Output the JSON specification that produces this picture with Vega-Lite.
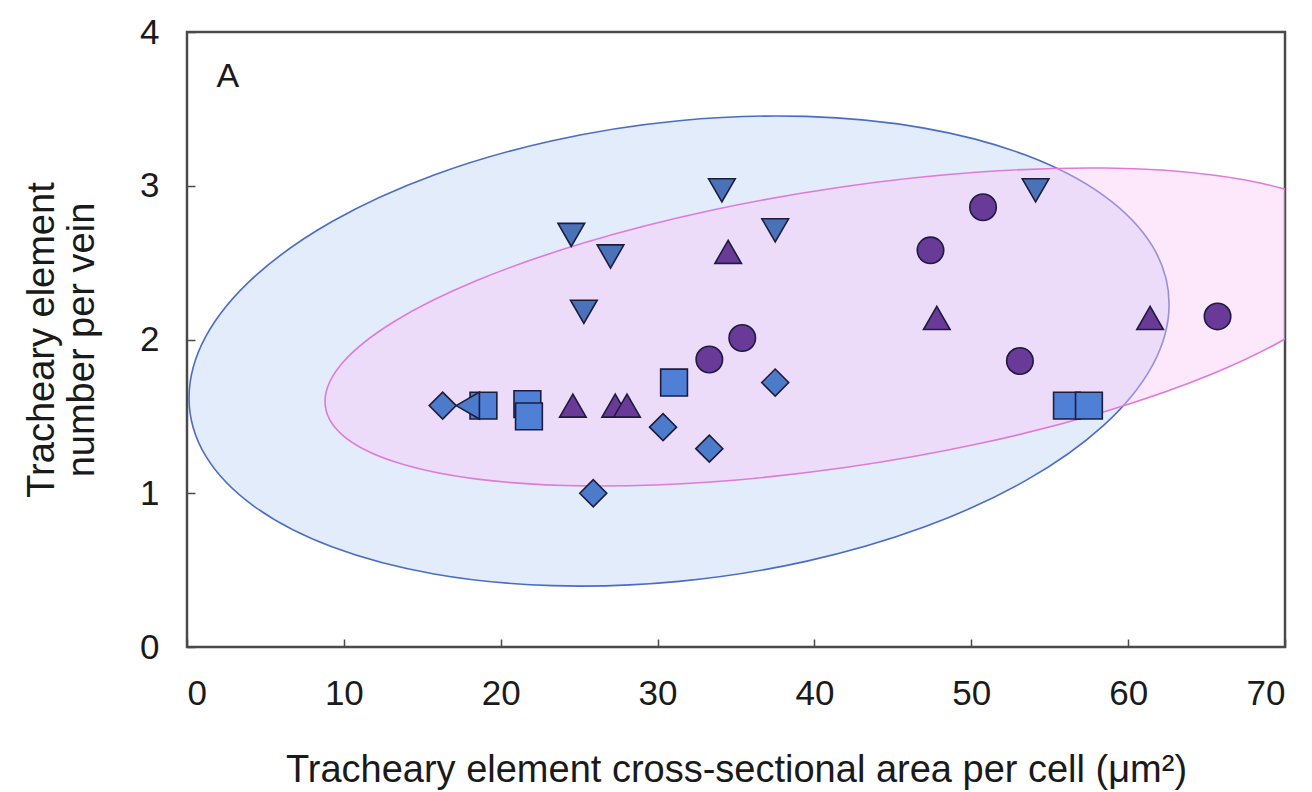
{
  "$schema": "https://vega.github.io/schema/vega-lite/v6.json",
  "width": 1098,
  "height": 615,
  "autosize": {"type": "none"},
  "padding": {"left": 187, "top": 32, "right": 27, "bottom": 145},
  "background": "white",
  "config": {
    "font": "Liberation Sans",
    "view": {"stroke": "#4a4a4a", "strokeWidth": 2.5},
    "axis": {
      "domain": false,
      "grid": false,
      "tickColor": "#4a4a4a",
      "tickWidth": 1.5,
      "tickSize": -8,
      "labelFont": "Liberation Sans",
      "labelFontSize": 35,
      "labelColor": "#1a1a1a",
      "titleFont": "Liberation Sans",
      "titleFontSize": 38,
      "titleFontWeight": "normal",
      "titleColor": "#1a1a1a"
    }
  },
  "datasets": {
    "blueEllipse": [
      {"i": 0, "x": 62.61, "y": 2.230}, {"i": 1, "x": 61.55, "y": 1.832},
      {"i": 2, "x": 58.42, "y": 1.440}, {"i": 3, "x": 53.46, "y": 1.082},
      {"i": 4, "x": 46.99, "y": 0.780}, {"i": 5, "x": 39.46, "y": 0.557},
      {"i": 6, "x": 31.37, "y": 0.427}, {"i": 7, "x": 23.29, "y": 0.399},
      {"i": 8, "x": 15.75, "y": 0.475}, {"i": 9, "x": 9.28, "y": 0.650},
      {"i": 10, "x": 4.32, "y": 0.912}, {"i": 11, "x": 1.19, "y": 1.243},
      {"i": 12, "x": 0.13, "y": 1.620}, {"i": 13, "x": 1.19, "y": 2.018},
      {"i": 14, "x": 4.32, "y": 2.410}, {"i": 15, "x": 9.28, "y": 2.769},
      {"i": 16, "x": 15.75, "y": 3.070}, {"i": 17, "x": 23.29, "y": 3.293},
      {"i": 18, "x": 31.37, "y": 3.423}, {"i": 19, "x": 39.46, "y": 3.451},
      {"i": 20, "x": 46.99, "y": 3.375}, {"i": 21, "x": 53.46, "y": 3.200},
      {"i": 22, "x": 58.42, "y": 2.938}, {"i": 23, "x": 61.55, "y": 2.607}
    ],
    "pinkEllipse": [
      {"i": 0, "x": 75.10, "y": 2.565}, {"i": 1, "x": 73.97, "y": 2.312},
      {"i": 2, "x": 70.66, "y": 2.043}, {"i": 3, "x": 65.39, "y": 1.777},
      {"i": 4, "x": 58.53, "y": 1.532}, {"i": 5, "x": 50.53, "y": 1.323},
      {"i": 6, "x": 41.95, "y": 1.167}, {"i": 7, "x": 33.37, "y": 1.073},
      {"i": 8, "x": 25.38, "y": 1.048}, {"i": 9, "x": 18.51, "y": 1.092},
      {"i": 10, "x": 13.24, "y": 1.205}, {"i": 11, "x": 9.93, "y": 1.377},
      {"i": 12, "x": 8.80, "y": 1.597}, {"i": 13, "x": 9.93, "y": 1.850},
      {"i": 14, "x": 13.24, "y": 2.119}, {"i": 15, "x": 18.51, "y": 2.385},
      {"i": 16, "x": 25.38, "y": 2.631}, {"i": 17, "x": 33.37, "y": 2.839},
      {"i": 18, "x": 41.95, "y": 2.995}, {"i": 19, "x": 50.53, "y": 3.089},
      {"i": 20, "x": 58.53, "y": 3.115}, {"i": 21, "x": 65.39, "y": 3.070},
      {"i": 22, "x": 70.66, "y": 2.957}, {"i": 23, "x": 73.97, "y": 2.785}
    ],
    "taxa": [
      {"taxon": "T4", "x": 24.5, "y": 2.68},
      {"taxon": "T4", "x": 27.0, "y": 2.54},
      {"taxon": "T4", "x": 34.1, "y": 2.97},
      {"taxon": "T4", "x": 37.5, "y": 2.71},
      {"taxon": "T4", "x": 25.3, "y": 2.18},
      {"taxon": "T4", "x": 54.1, "y": 2.97},
      {"taxon": "T5", "x": 24.6, "y": 1.57},
      {"taxon": "T5", "x": 27.3, "y": 1.57},
      {"taxon": "T5", "x": 28.05, "y": 1.57},
      {"taxon": "T5", "x": 34.5, "y": 2.57},
      {"taxon": "T5", "x": 47.8, "y": 2.14},
      {"taxon": "T5", "x": 61.4, "y": 2.14},
      {"taxon": "T6", "x": 33.3, "y": 1.87},
      {"taxon": "T6", "x": 35.4, "y": 2.01},
      {"taxon": "T6", "x": 47.4, "y": 2.58},
      {"taxon": "T6", "x": 50.75, "y": 2.86},
      {"taxon": "T6", "x": 53.1, "y": 1.86},
      {"taxon": "T6", "x": 65.7, "y": 2.15},
      {"taxon": "T3", "x": 18.9, "y": 1.57},
      {"taxon": "T3", "x": 21.7, "y": 1.58},
      {"taxon": "T3", "x": 21.8, "y": 1.50},
      {"taxon": "T3", "x": 31.05, "y": 1.72},
      {"taxon": "T3", "x": 56.1, "y": 1.57},
      {"taxon": "T3", "x": 57.5, "y": 1.57},
      {"taxon": "T2", "x": 17.9, "y": 1.57},
      {"taxon": "T1", "x": 16.3, "y": 1.57},
      {"taxon": "T1", "x": 30.35, "y": 1.43},
      {"taxon": "T1", "x": 33.3, "y": 1.29},
      {"taxon": "T1", "x": 25.9, "y": 1.0},
      {"taxon": "T1", "x": 37.5, "y": 1.72}
    ],
    "panel": [{"label": "A", "x": 2.6, "y": 3.71}]
  },
  "encoding": {
    "x": {
      "field": "x",
      "type": "quantitative",
      "scale": {"domain": [0, 70], "nice": false, "zero": false},
      "axis": {
        "values": [0, 10, 20, 30, 40, 50, 60, 70],
        "labelPadding": 37,
        "title": "Tracheary element cross-sectional area per cell (μm²)",
        "titlePadding": 40
      }
    },
    "y": {
      "field": "y",
      "type": "quantitative",
      "scale": {"domain": [0, 4], "nice": false, "zero": false},
      "axis": {
        "values": [0, 1, 2, 3, 4],
        "labelPadding": 36,
        "title": ["Tracheary element", "number per vein"],
        "titleLineHeight": 40,
        "titlePadding": 38
      }
    }
  },
  "layer": [
    {
      "data": {"name": "blueEllipse"},
      "mark": {
        "type": "line",
        "interpolate": "cardinal-closed",
        "filled": true,
        "fill": "#e2ecfb",
        "stroke": "#4a6cc6",
        "strokeWidth": 1.6,
        "clip": true
      },
      "encoding": {"order": {"field": "i", "type": "quantitative"}}
    },
    {
      "data": {"name": "pinkEllipse"},
      "mark": {
        "type": "line",
        "interpolate": "cardinal-closed",
        "filled": true,
        "fill": "#fac6f6",
        "fillOpacity": 0.42,
        "stroke": "#e07ad8",
        "strokeWidth": 1.6,
        "clip": true
      },
      "encoding": {"order": {"field": "i", "type": "quantitative"}}
    },
    {
      "data": {"name": "taxa"},
      "mark": {"type": "point", "filled": true, "opacity": 1, "stroke": "#1c1c3c", "strokeWidth": 1.6},
      "encoding": {
        "shape": {
          "field": "taxon", "type": "nominal", "legend": null,
          "scale": {"domain": ["T1", "T2", "T3", "T4", "T5", "T6"],
                    "range": ["diamond", "triangle-left", "square", "triangle-down", "triangle-up", "circle"]}
        },
        "color": {
          "field": "taxon", "type": "nominal", "legend": null,
          "scale": {"domain": ["T1", "T2", "T3", "T4", "T5", "T6"],
                    "range": ["#4d7bcb", "#4d7bcb", "#4f80d6", "#4a72b8", "#6a3a98", "#6a3a98"]}
        },
        "size": {
          "field": "taxon", "type": "ordinal", "legend": null,
          "scale": {"domain": ["T1", "T2", "T3", "T4", "T5", "T6"],
                    "range": [729, 700, 484, 729, 729, 676]}
        }
      }
    },
    {
      "data": {"name": "panel"},
      "mark": {"type": "text", "font": "Liberation Sans", "fontSize": 34, "color": "#1a1a1a", "align": "center", "baseline": "middle"},
      "encoding": {"text": {"field": "label"}}
    }
  ]
}
